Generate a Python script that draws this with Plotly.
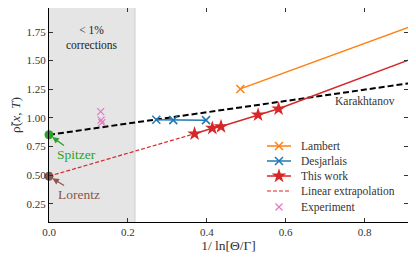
import plotly.graph_objects as go

# ---- data ----
lambert_x = [0.485, 1.0]
lambert_y = [1.253, 1.903]

desj_x = [0.272, 0.315, 0.398]
desj_y = [0.983, 0.980, 0.980]

this_x = [0.369, 0.414, 0.436, 0.530, 0.582, 1.0]
this_y = [0.861, 0.910, 0.924, 1.026, 1.079, 1.62]

extrap_x = [0.0, 0.369]
extrap_y = [0.490, 0.861]

exp_x = [0.131, 0.132, 0.134]
exp_y = [1.055, 0.980, 0.959]

karakh_x = [0.0, 1.0]
karakh_y = [0.852, 1.345]

spitzer = (0.0, 0.852)
lorentz = (0.0, 0.490)

shade_x1 = 0.218

x_ticks = [0.0, 0.2, 0.4, 0.6, 0.8]
y_ticks = [0.25, 0.50, 0.75, 1.00, 1.25, 1.50, 1.75]

legend_labels = ["Lambert", "Desjarlais", "This work", "Linear extrapolation", "Experiment"]

FONT = "Liberation Serif, Times New Roman, DejaVu Serif, serif"
ORANGE, BLUE, RED, PINK, GREEN, BROWN = "#ff7f0e", "#1f77b4", "#d62728", "#e377c2", "#2ca02c", "#8c564b"

XR = [0, 0.91]
YR = [0.09, 1.96]

fig = go.Figure()

# Karakhtanov dashed line
fig.add_trace(go.Scatter(x=karakh_x, y=karakh_y, mode="lines",
                         line=dict(color="black", width=2, dash="6px,3px"),
                         showlegend=False, hoverinfo="skip"))

styles = {
    "Lambert": dict(mode="lines+markers", line=dict(color=ORANGE, width=1.5),
                    marker=dict(symbol="x-thin", size=8, color=ORANGE, line=dict(width=1.5, color=ORANGE))),
    "Desjarlais": dict(mode="lines+markers", line=dict(color=BLUE, width=1.5),
                       marker=dict(symbol="x-thin", size=8, color=BLUE, line=dict(width=1.5, color=BLUE))),
    "This work": dict(mode="lines+markers", line=dict(color=RED, width=1.5),
                      marker=dict(symbol="star", size=11, color=RED, line=dict(width=0))),
    "Linear extrapolation": dict(mode="lines", line=dict(color=RED, width=1.2, dash="4px,2px")),
    "Experiment": dict(mode="markers",
                       marker=dict(symbol="x-thin", size=7, color=PINK, line=dict(width=1.2, color=PINK))),
}
series = {
    "Lambert": (lambert_x, lambert_y),
    "Desjarlais": (desj_x, desj_y),
    "This work": (this_x, this_y),
    "Linear extrapolation": (extrap_x, extrap_y),
    "Experiment": (exp_x, exp_y),
}
for name in legend_labels:
    sx, sy = series[name]
    fig.add_trace(go.Scatter(x=sx, y=sy, name=name, showlegend=False, **styles[name]))

fig.add_trace(go.Scatter(x=[spitzer[0]], y=[spitzer[1]], mode="markers", cliponaxis=False,
                         marker=dict(size=9, color=GREEN), showlegend=False))
fig.add_trace(go.Scatter(x=[lorentz[0]], y=[lorentz[1]], mode="markers", cliponaxis=False,
                         marker=dict(size=9, color=BROWN), showlegend=False))

# ---- legend drawn manually (matplotlib-like compact spacing) ----
# page has an 8px body margin, so the figure starts at (8, 8) in the window
OFF = 8
L, T, W, H = 49, 8, 359, 214  # plot area in window px
def px2paper(px, py):
    return (px - L) / W, (T + H - py) / H
row_y = [146, 161, 176, 191, 207]
for name, py in zip(legend_labels, row_y):
    x0, yy = px2paper(267, py)
    x1, _ = px2paper(291, py)
    xm = (x0 + x1) / 2
    st = styles[name]
    if "lines" in st["mode"]:
        ln = st["line"]
        fig.add_shape(type="line", xref="paper", yref="paper", x0=x0, x1=x1, y0=yy, y1=yy,
                      line=dict(color=ln["color"], width=ln["width"], dash=ln.get("dash", "solid")),
                      layer="above")
    if "markers" in st["mode"]:
        fig.add_trace(go.Scatter(x=[xm], y=[yy], mode="markers", marker=st["marker"],
                                 xaxis="x3", yaxis="y3", showlegend=False, hoverinfo="skip"))
    tx, _ = px2paper(299, py)
    fig.add_annotation(x=tx, y=yy, xref="paper", yref="paper", text=name, showarrow=False,
                       xanchor="left", yanchor="middle", font=dict(family=FONT, size=11.5, color="#333"))

# grey region
fig.add_shape(type="rect", xref="x", yref="paper", x0=0, x1=shade_x1, y0=0, y1=1,
              fillcolor="#e5e5e5", line=dict(width=0), layer="below")
fig.add_shape(type="line", xref="x", yref="paper", x0=shade_x1, x1=shade_x1, y0=0, y1=1,
              line=dict(color="#cfcfcf", width=1), layer="below")

fig.add_annotation(x=0.109, y=1.70, xref="x", yref="y", text="&lt; 1%<br>corrections",
                   showarrow=False, font=dict(family=FONT, size=11.5, color="#222"))
fig.add_annotation(x=0.80, y=1.148, xref="x", yref="y", text="Karakhtanov",
                   showarrow=False, font=dict(family=FONT, size=11.5, color="#333"))
fig.add_annotation(x=spitzer[0], y=spitzer[1], ax=0.07, ay=0.68, axref="x", ayref="y",
                   text="Spitzer", showarrow=True, arrowhead=2, arrowsize=1, arrowwidth=1.3,
                   arrowcolor=GREEN, standoff=4, font=dict(family=FONT, size=13.5, color=GREEN))
fig.add_annotation(x=lorentz[0], y=lorentz[1], ax=0.075, ay=0.33, axref="x", ayref="y",
                   text="Lorentz", showarrow=True, arrowhead=2, arrowsize=1, arrowwidth=1.3,
                   arrowcolor=BROWN, standoff=4, font=dict(family=FONT, size=13.5, color=BROWN))

axis_common = dict(ticks="inside", ticklen=4, tickwidth=1, tickcolor="#333", automargin=False,
                   showgrid=False, zeroline=False, showline=True, linewidth=1.3,
                   tickfont=dict(family=FONT, size=11, color="#333"))

fig.update_layout(
    width=416 - OFF, height=263 - OFF,
    margin=dict(l=L - OFF, r=416 - (L + W), t=T - OFF, b=263 - (T + H)),
    paper_bgcolor="white", plot_bgcolor="white",
    font=dict(family=FONT, color="#333"),
    xaxis=dict(range=XR, tickvals=x_ticks, ticktext=[f"{v:.1f}" for v in x_ticks],
               linecolor="black", title=dict(text="1/ ln[Θ/Γ]", font=dict(family=FONT, size=13.5), standoff=1),
               **axis_common),
    yaxis=dict(range=YR, tickvals=y_ticks, ticktext=[f"{v:.2f}" for v in y_ticks],
               linecolor="black", title=dict(text="ρ̃(<i>x</i>, <i>T</i>)", font=dict(family=FONT, size=13.5), standoff=3),
               **axis_common),
    xaxis2=dict(overlaying="x", matches="x", side="top", range=XR, tickvals=x_ticks,
                showticklabels=False, linecolor="#888", **axis_common),
    yaxis2=dict(overlaying="y", matches="y", side="right", range=YR, tickvals=y_ticks,
                showticklabels=False, linecolor="#888", **axis_common),
    xaxis3=dict(overlaying="x", range=[0, 1], visible=False, fixedrange=True),
    yaxis3=dict(overlaying="y", range=[0, 1], visible=False, fixedrange=True),
    showlegend=False,
)

# invisible trace to activate secondary axes
fig.add_trace(go.Scatter(x=[0.5], y=[1.0], xaxis="x2", yaxis="y2", mode="markers",
                         marker=dict(opacity=0), showlegend=False, hoverinfo="skip"))

fig.write_html("out.html")
